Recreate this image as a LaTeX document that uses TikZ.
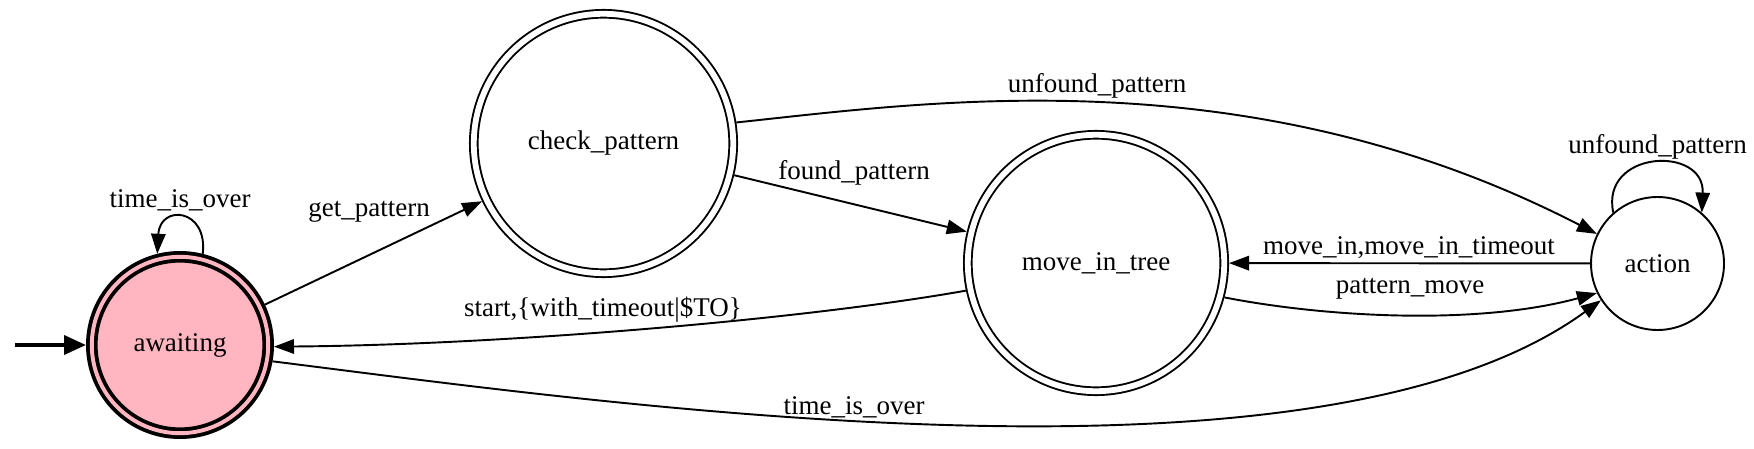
\documentclass[tikz,border=0pt]{standalone}
\usepackage{fontspec}
\setmainfont{Liberation Serif}
\usetikzlibrary{arrows.meta}
\definecolor{awaitpink}{HTML}{FFB6C1}

\begin{document}
\begin{tikzpicture}[x=0.5pt, y=-0.5pt,
        font=\fontsize{13.5}{16}\selectfont,
        state/.style={circle, draw, line width=0.96pt, inner sep=0pt},
        dstate/.style={state, double, double distance=2.9pt, outer sep=2.4pt},
        lbl/.style={anchor=base, inner sep=0pt},
        tr/.style={line width=0.96pt, -{Triangle[length=10pt,width=7.2pt]}}]
            \useasboundingbox (0,0) rectangle (1754,449);
            \node[dstate, line width=1.92pt, double distance=1.95pt, outer sep=2.9pt,
                  fill=awaitpink, double=awaitpink, minimum size=88.2pt] (awaiting) at (180,345) {awaiting};
            \node[dstate, minimum size=129.7pt] (check) at (603.5,143.5) {check\_pattern};
            \node[dstate, minimum size=128.2pt] (move) at (1096,263) {move\_in\_tree};
            \node[state, minimum size=66.5pt] (action) at (1657.5,263.5) {action};
            \coordinate (init) at (15,345);
            \draw[line width=1.92pt, -{Triangle[length=11pt,width=9.5pt]}] (init) -- (awaiting);
            \draw[tr] (awaiting.76) .. controls (208,208) and (160,204) .. (awaiting.104);
            \draw[tr] (awaiting) -- (check);
            \draw[tr] (check) -- (move);
            \draw[tr] (check.9) .. controls (930,102) and (1250,55) .. (action.154.8);
            \draw[tr] (action.131.5) .. controls (1600,150) and (1705,145) .. (action.49);
            \draw[tr] (action) -- (move);
            \draw[tr] (move.-15.2) .. controls (1330,318) and (1480,325) .. (action.206.4);
            \draw[tr] (move.192.2) .. controls (800,320) and (500,345) .. (awaiting.-1);
            \draw[tr] (awaiting.-10.5) .. controls (620,405) and (1320,505) .. (action.213.8);
            \node[lbl] (lover) at (180,207) {time\_is\_over};
            \node[lbl] (lget) at (369,216.5) {get\_pattern};
            \node[lbl] (lfound) at (854,179.3) {found\_pattern};
            \node[lbl] (lunfound) at (1097,92.7) {unfound\_pattern};
            \node[lbl] (lunloop) at (1657.5,153.3) {unfound\_pattern};
            \node[lbl] (lmovein) at (1409,254.3) {move\_in,move\_in\_timeout};
            \node[lbl] (lpmove) at (1410,293.5) {pattern\_move};
            \node[lbl] (lstart) at (603,316.7) {start,\{with\_timeout|\$TO\}};
            \node[lbl] (ltimeout) at (854,414) {time\_is\_over};
        \end{tikzpicture}
\end{document}
